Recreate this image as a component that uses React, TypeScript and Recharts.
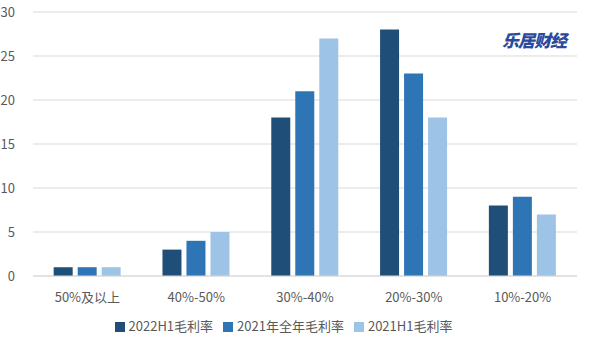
import React from 'react';
import { BarChart, Bar, XAxis, YAxis, CartesianGrid, Legend } from 'recharts';

const categories = ['50%及以上', '40%-50%', '30%-40%', '20%-30%', '10%-20%'];
const h1_2022 = [1, 3, 18, 28, 8];
const full_2021 = [1, 4, 21, 23, 9];
const h1_2021 = [1, 5, 27, 18, 7];
const yTicks = [0, 5, 10, 15, 20, 25, 30];

const data = categories.map((name, i) => ({
  name,
  a: h1_2022[i],
  b: full_2021[i],
  c: h1_2021[i],
}));

const font = '"Microsoft YaHei", "Noto Sans CJK SC", "Noto Sans", sans-serif';

export default function App() {
  return (
    <div style={{ position: 'absolute', left: 0, top: 0, width: 593, height: 348, background: '#fff', fontFamily: font }}>
      <BarChart
        width={593}
        height={348}
        data={data}
        margin={{ top: 12, right: 16, left: 0, bottom: 13 }}
        barCategoryGap="19%"
        barGap={5}
      >
        <CartesianGrid vertical={false} stroke="#D9D9D9" />
        <XAxis
          dataKey="name"
          axisLine={{ stroke: '#D9D9D9' }}
          tickLine={false}
          tick={{ fill: '#595959', fontSize: 13, fontFamily: font }}
          height={30}
          tickMargin={11}
        />
        <YAxis
          ticks={yTicks}
          domain={[0, 30]}
          axisLine={false}
          tickLine={false}
          width={33}
          tick={{ fill: '#595959', fontSize: 13, fontFamily: font }}
          tickMargin={12}
        />
        <Legend
          verticalAlign="bottom"
          iconType="square"
          iconSize={10}
          itemSorter="dataKey"
          wrapperStyle={{ fontSize: 13, color: '#595959', paddingTop: 10, fontFamily: font }}
          formatter={(v) => <span style={{ color: '#595959' }}>{v}</span>}
        />
        <Bar dataKey="a" name="2022H1毛利率" fill="#1F4E79" isAnimationActive={false} />
        <Bar dataKey="b" name="2021年全年毛利率" fill="#2E75B6" isAnimationActive={false} />
        <Bar dataKey="c" name="2021H1毛利率" fill="#9DC3E6" isAnimationActive={false} />
      </BarChart>
      <div
        style={{
          position: 'absolute',
          left: 502,
          top: 27,
          fontSize: 17,
          fontWeight: 900,
          fontStyle: 'italic',
          color: '#2B4A9B',
          letterSpacing: -1,
        }}
      >
        乐居财经
      </div>
    </div>
  );
}
